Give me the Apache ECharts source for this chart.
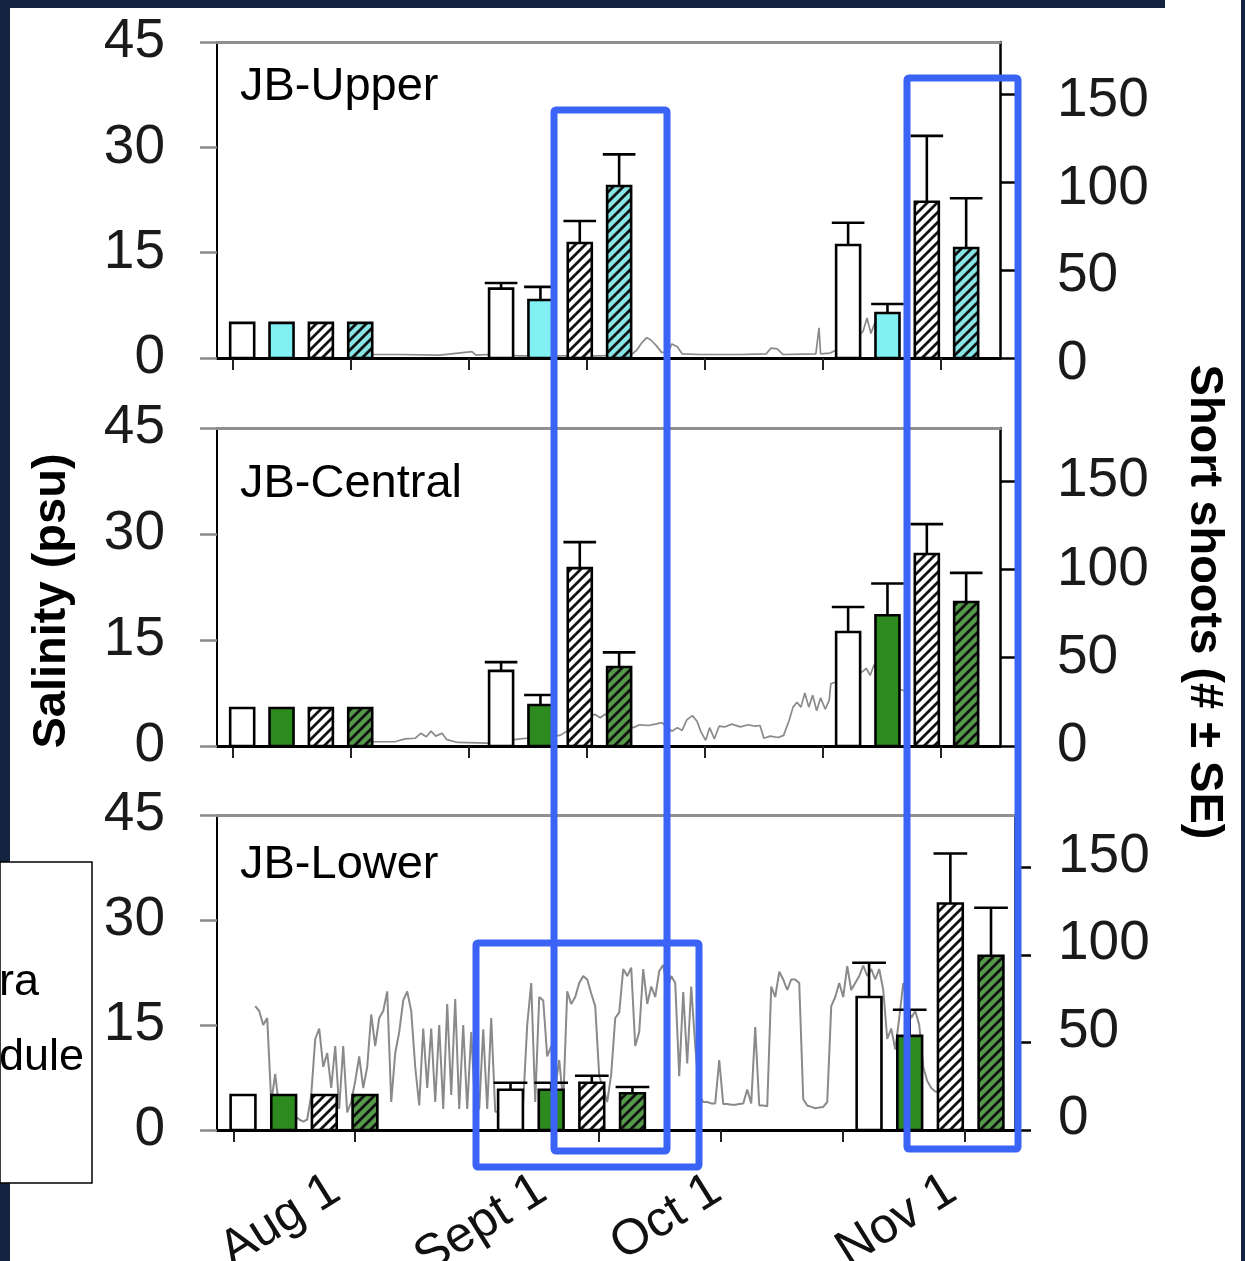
<!DOCTYPE html>
<html>
<head>
<meta charset="utf-8">
<title>JB short shoots and salinity</title>
<script src="https://cdn.jsdelivr.net/npm/echarts@6/dist/echarts.min.js"></script>
<style>
  html, body { margin: 0; padding: 0; background: #fff; }
  #chart { width: 1245px; height: 1261px; }
</style>
</head>
<body>
<div id="chart"></div>
<script>
// sample dates and axis ticks, in days from the first x tick
const sampleDays = [8.7, 41.6, 85.7];
const tickDays = [0, 15, 30, 45, 60, 75, 90];
const dateLabels = ['Aug 1', 'Sept 1', 'Oct 1', 'Nov 1'];
const dateLabelDays = [12.6, 38.0, 59.5, 88.4];
const shootTicks = [0, 50, 100, 150];
const panelNames = ['JB-Upper', 'JB-Central', 'JB-Lower'];

// short shoots per sample date: [open, filled, open hatched, filled hatched]
const upperShoots = [[20, 20, 20, 20], [39.5, 33, 65.5, 98], [64.4, 25.6, 89, 62.7]];
const upperSE = [[0, 0, 0, 0], [3.2, 7.5, 12.5, 18], [12.6, 5.2, 37.5, 28.3]];
const centralShoots = [[21.5, 21.5, 21.5, 21.5], [42.5, 23.2, 100.7, 44.7], [64.5, 74, 108.7, 81.5]];
const centralSE = [[0, 0, 0, 0], [5, 5.7, 14.7, 8.3], [14.2, 18, 16.9, 16.5]];
const lowerShoots = [[20, 20, 20, 20], [23, 23, 27, 21], [76, 53.8, 129.4, 99.6]];
const lowerSE = [[0, 0, 0, 0], [4, 4, 4, 3.6], [19.6, 14.9, 28.6, 27.4]];

// salinity (psu), [day, value]
const upperSalinity = [
  [17.7, 0.5], [21.3, 0.5], [26.3, 0.4], [30.4, 0.9], [30.9, 0.4], [32.4, 0.5], [36.5, 0.3],
  [41.6, 0.3], [46.7, 0.3], [50.7, 0.5], [51.4, 1.2], [52.0, 2.2], [52.6, 2.9], [53.1, 2.6],
  [53.8, 1.8], [54.5, 0.8], [55.3, 0.8], [55.8, 2.0], [56.5, 1.6], [57.1, 0.6], [59.4, 0.5],
  [64.5, 0.5], [67.8, 0.6], [68.4, 1.4], [69.2, 1.3], [69.9, 0.5], [74.1, 0.6], [74.5, 4.3],
  [74.7, 0.6], [75.9, 0.7], [78.4, 2], [80.1, 3.8], [80.6, 5.7], [81.1, 3.5], [81.6, 5], [82.9, 2]
];
const centralSalinity = [
  [17.7, 0.6], [20.6, 0.6], [21.9, 1.0], [23.2, 1.1], [23.9, 1.8], [24.6, 1.3], [25.2, 2.1],
  [25.8, 1.4], [26.6, 1.8], [27.2, 0.9], [28.6, 0.5], [32.4, 0.4], [36.5, 1.0], [41.6, 1.5],
  [46.0, 4.5], [46.7, 4.0], [47.3, 4.5], [49.2, 3.0], [50.9, 2.6], [51.7, 3.0], [52.8, 2.9],
  [53.7, 3.1], [54.5, 3.3], [55.3, 2.6], [55.8, 2.1], [56.5, 2.6], [57.1, 2.2], [57.7, 3.7],
  [58.4, 4.3], [59.0, 3.5], [59.5, 2.0], [60.1, 0.8], [60.6, 2.6], [61.2, 1.0], [61.8, 2.8],
  [62.5, 2.7], [63.4, 3.1], [64.5, 2.7], [65.5, 3.0], [66.4, 2.8], [67.0, 2.9], [67.5, 1.1],
  [68.3, 1.4], [69.3, 1.2], [70.0, 1.5], [70.7, 3.6], [71.2, 5.5], [71.7, 6.2], [72.2, 5.5],
  [72.7, 7.5], [73.2, 5.5], [73.7, 7.2], [74.2, 5.0], [74.7, 6.8], [75.3, 5.2], [75.8, 6.5],
  [76.0, 8.8], [77.8, 9.5], [80.0, 10.5], [80.5, 11], [81.0, 10], [81.5, 11.5], [82.9, 9],
  [84.8, 8], [85.4, 7.8], [86.1, 7.5]
];
// lower logger: one reading every lowerStepDays from lowerStartDay
const lowerStartDay = 2.7;
const lowerStepDays = 0.492;
const lowerSalinity = [
  17.7, 17, 15, 16, 4, 8, 3, 4, 3, 4,
  2, 1.5, 1.2, 1.5, 5, 13, 14.5, 9, 11, 6,
  12, 3, 12, 2.5, 4, 7, 10.5, 6, 9, 16.5,
  12, 16, 17, 19.8, 4, 11, 14, 18.5, 19.8, 17,
  9, 3.5, 14.5, 6, 14.5, 4, 15, 3, 18, 5,
  18.7, 3, 15, 3, 14, 3, 3, 14.4, 3, 16,
  2.6, 2.6, 3, 2.5, 3, 2.5, 3, 4, 15, 21,
  4, 19, 18.5, 10.5, 12, 6, 10, 4, 19.8, 18,
  19, 21, 22, 21.5, 19.5, 17.7, 7.7, 6, 4, 8,
  16, 16.8, 23, 22, 23.2, 12, 14, 23, 18, 20.5,
  19, 22.7, 23.6, 20, 22, 21, 7.7, 19.7, 9.5, 20.5,
  12, 5, 4, 4, 3.8, 3.8, 10, 3.7, 3.7, 3.6,
  3.6, 3.7, 3.8, 5.8, 3.8, 14.7, 3.5, 3.5, 3.4, 20.5,
  19, 22.6, 21.5, 20, 21.5, 21.5, 21, 4.4, 3.5, 3.3,
  3.1, 3.2, 3.3, 4, 17.7, 19, 21, 19, 23.4, 20,
  21, 22, 23.5, 22, 23, 21.5, 23, 20, 13, 14.5,
  11.5, 16, 21, 18, 16, 17, 15, 9, 7, 6,
  5.5, 5.4
];

const FONT = '"Liberation Sans", Arial, sans-serif';
const BLUE = '#3b63f5';
const NAVY = '#142440';

const shoots = [upperShoots, centralShoots, lowerShoots];
const shootSE = [upperSE, centralSE, lowerSE];
const salinity = [
  upperSalinity,
  centralSalinity,
  lowerSalinity.map((v, i) => [lowerStartDay + i * lowerStepDays, v])
];

const grids = [
  { left: 217, top: 42, width: 783, height: 316, outerBoundsMode: 'none', containLabel: false },
  { left: 217, top: 428, width: 783, height: 318, outerBoundsMode: 'none', containLabel: false },
  { left: 217, top: 815, width: 798, height: 315, outerBoundsMode: 'none', containLabel: false }
];
const xMax = [97.5, 97.5, 96.15];
const barOffsetDays = [-7.5, -2.5, 2.5, 7.5];
const barWidthDays = 3.05;
// right-hand labels sit a little off their ticks in the original
const rightLabelPadding = [[12, 0, 0, 0], [0, 0, 0, 0], [0, 0, 22, 0]];

function hatch(bg) {
  const s = 10;
  const c = document.createElement('canvas');
  c.width = c.height = s;
  const g = c.getContext('2d');
  g.fillStyle = bg;
  g.fillRect(0, 0, s, s);
  g.strokeStyle = '#111';
  g.lineWidth = 2.8;
  g.beginPath();
  g.moveTo(-1, s + 1); g.lineTo(s + 1, -1);
  g.moveTo(-s / 2 - 1, s / 2 + 1); g.lineTo(s / 2 + 1, -s / 2 - 1);
  g.moveTo(s / 2 - 1, s * 1.5 + 1); g.lineTo(s * 1.5 + 1, s / 2 - 1);
  g.stroke();
  return { image: c, repeat: 'repeat' };
}

const cyan = '#80f0f2';
const green = '#2c8a1e';
const fills = [
  ['#ffffff', cyan, hatch('#ffffff'), hatch('#86e6e6')],
  ['#ffffff', green, hatch('#ffffff'), hatch('#559a48')],
  ['#ffffff', green, hatch('#ffffff'), hatch('#559a48')]
];

function barItems(means, errs) {
  const out = [];
  sampleDays.forEach((d, g) => {
    means[g].forEach((m, k) => out.push([d, m, errs[g][k], k]));
  });
  return out;
}

function makeRenderer(panelFills) {
  return function (params, api) {
    const k = api.value(3);
    const day = api.value(0) + barOffsetDays[k];
    const mean = api.value(1);
    const se = api.value(2);
    const base = api.coord([day, 0]);
    const top = api.coord([day, mean]);
    const w = api.size([barWidthDays, 0])[0];
    const ink = { stroke: '#000', lineWidth: 2.6 };
    const children = [{
      type: 'rect',
      shape: { x: base[0] - w / 2, y: top[1], width: w, height: base[1] - top[1] },
      style: Object.assign({ fill: panelFills[k] }, ink)
    }];
    if (se > 0) {
      const cap = api.coord([day, mean + se]);
      children.push({
        type: 'line',
        shape: { x1: top[0], y1: top[1], x2: top[0], y2: cap[1] },
        style: ink
      });
      children.push({
        type: 'line',
        shape: { x1: top[0] - w * 0.68, y1: cap[1], x2: top[0] + w * 0.68, y2: cap[1] },
        style: ink
      });
    }
    return { type: 'group', children };
  };
}

const xAxes = [];
const yAxes = [];
const series = [];
grids.forEach((g, i) => {
  xAxes[i] = {
    type: 'value', gridIndex: i, position: 'bottom', min: -2, max: xMax[i],
    axisLine: { onZero: false, lineStyle: { color: '#000', width: 3 } },
    axisTick: { show: true, customValues: tickDays, length: 12, lineStyle: { color: '#222', width: 2 } },
    axisLabel: {
      show: i === 2, customValues: dateLabelDays, rotate: 32, margin: 56,
      fontSize: 50, color: '#111', fontFamily: FONT,
      formatter: v => dateLabels[dateLabelDays.indexOf(v)] || ''
    },
    splitLine: { show: false }
  };
  xAxes[i + 3] = {
    type: 'value', gridIndex: i, position: 'top', min: -2, max: xMax[i],
    axisLine: { onZero: false, lineStyle: { color: '#8f8f8f', width: 3 } },
    axisTick: { show: false }, axisLabel: { show: false }, splitLine: { show: false }
  };
  yAxes[2 * i] = {
    type: 'value', gridIndex: i, position: 'left', min: 0, max: 45, interval: 15,
    axisLine: { show: true, onZero: false, lineStyle: { color: '#000', width: 2 } },
    axisTick: { show: true, length: 17, lineStyle: { color: '#8a8a8a', width: 2.5 } },
    axisLabel: { margin: 52, fontSize: 55, color: '#1a1a1a', fontFamily: FONT },
    splitLine: { show: false }
  };
  yAxes[2 * i + 1] = {
    type: 'value', gridIndex: i, position: 'right', min: 0, max: 180,
    axisLine: { show: true, onZero: false, lineStyle: { color: '#000', width: 2.5 } },
    axisTick: { show: true, customValues: shootTicks, length: 16, lineStyle: { color: '#000', width: 2.5 } },
    axisLabel: {
      customValues: shootTicks, margin: i === 2 ? 43 : 57,
      formatter: v => '{t|' + v + '}',
      rich: { t: { fontSize: 55, color: '#1a1a1a', fontFamily: FONT, padding: rightLabelPadding[i] } }
    },
    splitLine: { show: false }
  };
  series.push({
    type: 'line', xAxisIndex: i, yAxisIndex: 2 * i, data: salinity[i],
    symbol: 'none', lineStyle: { color: '#8a8a8a', width: i === 2 ? 2 : 1.7 }, z: 2, silent: true
  });
  series.push({
    type: 'custom', xAxisIndex: i, yAxisIndex: 2 * i + 1,
    data: barItems(shoots[i], shootSE[i]), renderItem: makeRenderer(fills[i]), z: 3
  });
});

const panelTitleY = [87, 484, 865];
const graphics = [];
panelNames.forEach((name, i) => {
  graphics.push({
    type: 'text', x: 240, y: panelTitleY[i], z: 50,
    style: { text: name, font: '47px ' + FONT, fill: '#000', verticalAlign: 'middle' }
  });
});
graphics.push(
  { type: 'text', x: 52, y: 601, rotation: Math.PI / 2, z: 50,
    style: { text: 'Salinity (psu)', font: 'bold 47px ' + FONT, fill: '#000', align: 'center', verticalAlign: 'middle' } },
  { type: 'text', x: 1204, y: 602, rotation: -Math.PI / 2, z: 50,
    style: { text: 'Short shoots (# \u00b1 SE)', font: 'bold 47px ' + FONT, fill: '#000', align: 'center', verticalAlign: 'middle' } },
  // slide frame
  { type: 'rect', z: 60, shape: { x: 0, y: 0, width: 10, height: 1261 }, style: { fill: NAVY } },
  { type: 'rect', z: 60, shape: { x: 0, y: 0, width: 1165, height: 8 }, style: { fill: NAVY } },
  { type: 'rect', z: 60, shape: { x: 1241, y: 0, width: 4, height: 1261 }, style: { fill: NAVY } },
  { type: 'rect', z: 61, shape: { x: 0, y: 862, width: 92, height: 321 }, style: { fill: '#fff', stroke: '#000', lineWidth: 1.5 } },
  { type: 'text', x: -1, y: 983, z: 62, style: { text: 'ra', font: '45px ' + FONT, fill: '#000', verticalAlign: 'middle' } },
  { type: 'text', x: -1, y: 1058, z: 62, style: { text: 'dule', font: '45px ' + FONT, fill: '#000', verticalAlign: 'middle' } },
  // highlight boxes
  { type: 'rect', z: 70, shape: { x: 554, y: 110, width: 113, height: 1041, r: 2 }, style: { fill: 'none', stroke: BLUE, lineWidth: 7 } },
  { type: 'rect', z: 70, shape: { x: 907, y: 78, width: 111, height: 1071, r: 2 }, style: { fill: 'none', stroke: BLUE, lineWidth: 7 } },
  { type: 'rect', z: 70, shape: { x: 476, y: 943, width: 223, height: 224, r: 2 }, style: { fill: 'none', stroke: BLUE, lineWidth: 7 } }
);

const chart = echarts.init(document.getElementById('chart'));
chart.setOption({
  backgroundColor: '#fff',
  animation: false,
  grid: grids,
  xAxis: xAxes,
  yAxis: yAxes,
  series: series,
  graphic: { elements: graphics }
});
window.addEventListener('resize', () => chart.resize());
</script>
</body>
</html>
